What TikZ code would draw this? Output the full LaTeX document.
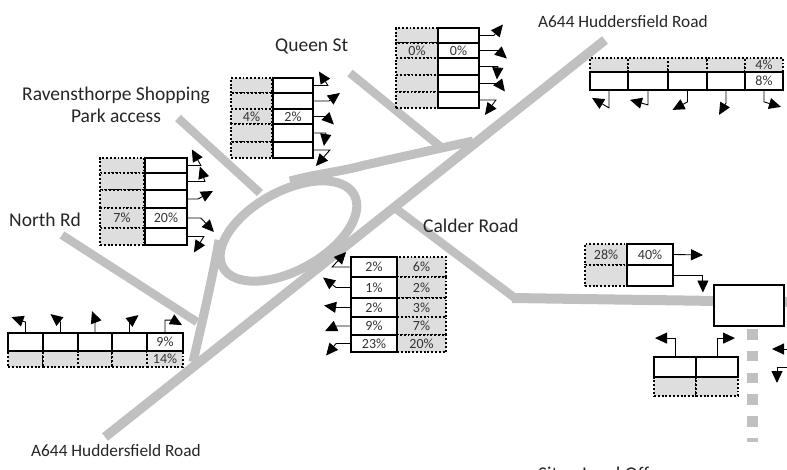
\documentclass[tikz,border=0pt]{standalone}
\usepackage{fontspec}
\setmainfont{Carlito}
\usepackage{xcolor}
\usetikzlibrary{arrows.meta}
\definecolor{roadgrey}{HTML}{C0C0C0}
\definecolor{cellgrey}{HTML}{DEDEDE}
\tikzset{
  road/.style={draw=roadgrey, line width=#1},
  road/.default=9pt,
  place/.style={font=\fontsize{#1}{22}\selectfont, text=black!85, inner sep=0pt},
  place/.default=19.5,
  outcell/.style={draw=black, line width=1.8pt, fill=white, inner sep=0pt,
                  font=\fontsize{14}{15}\selectfont, text=black!80},
  incell/.style={draw=black, line width=1.6pt, dash pattern=on 1.9pt off 1.9pt,
                 fill=cellgrey, inner sep=0pt,
                 font=\fontsize{14}{15}\selectfont, text=black!80},
  flow/.style={draw=black, line width=0.9pt, -{Triangle[length=12pt,width=11pt]}},
  sitebox/.style={draw=black, line width=1.2pt, fill=white, inner sep=0pt},
}
% #1 style, #2 name, #3/#4 top left, #5/#6 bottom right, #7 text
\newcommand{\cellat}[7]{%
  \node[#1, minimum width={(#5-(#3))*1pt}, minimum height={(#6-(#4))*1pt}]
    (#2) at ({(#3+#5)/2},{(#4+#6)/2}) {#7};}

\begin{document}
\begin{tikzpicture}[x=1pt,y=-1pt]
  \useasboundingbox (0,0) rectangle (787,469);

  % roads
  \draw[road=9.5pt] (105,437) -- (605,40);
  \draw[road=8.5pt] (62,235) -- (197,322);
  \draw[road=8.5pt] (178,118) -- (260,193);
  \draw[road=8.5pt] (350,73) -- (442,148);
  \draw[road=8.5pt] (395,208) -- (515,298);
  \draw[road=10pt] (512,298) -- (787,302);
  \draw[road] (288.5,231) ellipse [x radius=75, y radius=39.5, rotate=29];
  \draw[road] (290,181) .. controls (320,173) and (340,172) .. (365,165) -- (473,141);
  \draw[road] (219,240) .. controls (214,270) and (205,310) .. (193,362);
  \draw[road=11pt, dash pattern=on 10.5pt off 11.3pt] (752,329) -- (752,442);

  % North Rd
  \foreach \i/\ya/\yb/\tin/\tout in
      {1/158/173//, 2/173/190//, 3/190/208//, 4/208/228/7\%/20\%, 5/228/245//} {
    \cellat{incell}{nrin\i}{100}{\ya}{144}{\yb}{\tin}
  }
  \foreach \i/\ya/\yb/\tin/\tout in
      {1/158/173//, 2/173/190//, 3/190/208//, 4/208/228/7\%/20\%, 5/228/245//} {
    \cellat{outcell}{nr\i}{145}{\ya}{187}{\yb}{\tout}
  }
  \foreach \i/\ax/\bx/\by in
      {1/13/-9/-16, 2/17/-5/-15, 3/10/15/-8, 4/13/13/14, 5/16/-10/16} {
    \draw[flow] (nr\i.east) -- ++(\ax,0) -- ++(\bx,\by);
  }

  % A644 south arm
  \foreach \i/\xa/\xb/\tin/\tout in
      {1/8/43//, 2/43/78//, 3/78/112//, 4/112/147//, 5/147/183/14\%/9\%} {
    \cellat{incell}{ssin\i}{\xa}{351}{\xb}{367}{\tin}
  }
  \foreach \i/\xa/\xb/\tin/\tout in
      {1/8/43//, 2/43/78//, 3/78/112//, 4/112/147//, 5/147/183/14\%/9\%} {
    \cellat{outcell}{ss\i}{\xa}{333}{\xb}{351}{\tout}
  }
  \foreach \i/\ay/\bx/\by in
      {1/-10/-14/-5, 2/-10/-10/-8, 3/-13/-3/-8, 4/-10/9/-7} {
    \draw[flow] (ss\i.north) -- ++(0,\ay) -- ++(\bx,\by);
  }
  \draw[flow] (ss5.north) -- ++(0,-12) -- ++(8,0) -- ++(9,5);

  % Ravensthorpe
  \foreach \i/\ya/\yb/\tin/\tout in
      {1/78/93//, 2/93/109//, 3/109/124/4\%/2\%, 4/124/142//, 5/142/158//} {
    \cellat{incell}{rvin\i}{231}{\ya}{272}{\yb}{\tin}
  }
  \foreach \i/\ya/\yb/\tin/\tout in
      {1/78/93//, 2/93/109//, 3/109/124/4\%/2\%, 4/124/142//, 5/142/158//} {
    \cellat{outcell}{rv\i}{273}{\ya}{313}{\yb}{\tout}
  }
  \foreach \i/\ax/\bx/\by in
      {1/14/-9/-14, 2/15/11/-8, 3/12/8/8, 4/12/-2/13, 5/16/-14/16} {
    \draw[flow] (rv\i.east) -- ++(\ax,0) -- ++(\bx,\by);
  }

  % Queen St
  \foreach \i/\ya/\yb/\tin/\tout in
      {1/28/43//, 2/43/58/0\%/0\%, 3/58/75//, 4/75/92//, 5/92/108//} {
    \cellat{incell}{qsin\i}{396}{\ya}{438}{\yb}{\tin}
  }
  \foreach \i/\ya/\yb/\tin/\tout in
      {1/28/43//, 2/43/58/0\%/0\%, 3/58/75//, 4/75/92//, 5/92/108//} {
    \cellat{outcell}{qs\i}{438}{\ya}{479}{\yb}{\tout}
  }
  \foreach \i/\ax/\bx/\by in
      {1/14/9/-11, 2/18/9/8, 3/18/-1/13, 4/19/6/8, 5/16/-11/15} {
    \draw[flow] (qs\i.east) -- ++(\ax,0) -- ++(\bx,\by);
  }

  % A644 north arm
  \foreach \i/\xa/\xb/\tin/\tout in
      {1/590/628//, 2/628/668//, 3/668/707//, 4/707/745//, 5/745/783/4\%/8\%} {
    \cellat{incell}{nnin\i}{\xa}{58}{\xb}{72}{\tin}
  }
  \foreach \i/\xa/\xb/\tin/\tout in
      {1/590/628//, 2/628/668//, 3/668/707//, 4/707/745//, 5/745/783/4\%/8\%} {
    \cellat{outcell}{nn\i}{\xa}{72}{\xb}{90}{\tout}
  }
  \foreach \i/\ay/\bx/\by in
      {1/17/-17/-10, 2/14/-18/-5, 3/11/-15/8, 4/12/-7/12, 5/11/17/5} {
    \draw[flow] (nn\i.south) -- ++(0,\ay) -- ++(\bx,\by);
  }

  % Calder Road
  \foreach \i/\ya/\yb/\tout/\tin in
      {1/257/277/2\%/6\%, 2/277/298/1\%/2\%, 3/298/317/2\%/3\%,
       4/317/335/9\%/7\%, 5/335/352/23\%/20\%} {
    \cellat{incell}{crin\i}{397}{\ya}{446}{\yb}{\tin}
  }
  \foreach \i/\ya/\yb/\tout/\tin in
      {1/257/277/2\%/6\%, 2/277/298/1\%/2\%, 3/298/317/2\%/3\%,
       4/317/335/9\%/7\%, 5/335/352/23\%/20\%} {
    \cellat{outcell}{cr\i}{351}{\ya}{397}{\yb}{\tout}
  }
  \foreach \i/\ax/\bx/\by in
      {1/-18/14/-15, 2/-14/-13/-10, 3/-13/-13/-2, 4/-14/-11/5, 5/-14/-10/12} {
    \draw[flow] (cr\i.west) -- ++(\ax,0) -- ++(\bx,\by);
  }

  % site access
  \cellat{incell}{sain1}{585}{244}{627}{265}{28\%}
  \cellat{incell}{sain2}{585}{265}{627}{286}{}
  \cellat{outcell}{sa1}{627}{244}{673}{265}{40\%}
  \cellat{outcell}{sa2}{627}{265}{673}{286}{}
  \cellat{sitebox}{site}{714}{285}{784}{326}{}
  \coordinate (satip) at (703,255);
  \draw[flow] (sa1.east) -- (satip);
  \draw[flow] (sa2.east) -- ++(29,0) -- ++(0,17);

  \cellat{incell}{lwin1}{654}{377}{696}{396}{}
  \cellat{incell}{lwin2}{696}{377}{738}{396}{}
  \cellat{outcell}{lw1}{654}{357}{696}{377}{}
  \cellat{outcell}{lw2}{696}{357}{738}{377}{}
  \draw[flow] (lw1.north) -- ++(0,-18) -- ++(-20,0);
  \draw[flow] (lw2.north) -- ++(0,-18) -- ++(18,0);

  \coordinate (inright) at (787,349);
  \coordinate (inlow) at (787,367);
  \draw[flow] (inright) -- ++(-15,0);
  \draw[flow] (inlow) -- ++(-10,0) -- ++(0,16);

  % street names
  \node[place=17.3, anchor=west] (a644n) at (538,22) {A644 Huddersfield Road};
  \node[place, anchor=west] (queen) at (275,46) {Queen St};
  \node[place, align=center] (raven) at (116,105) {Ravensthorpe Shopping\\Park access};
  \node[place, anchor=west] (north) at (9,220) {North Rd};
  \node[place, anchor=west] (calder) at (423,226) {Calder Road};
  \node[place=17.3, anchor=west] (a644s) at (31,451) {A644 Huddersfield Road};
  \node[place, anchor=west] (landoff) at (538,474) {Site - Land Off};
\end{tikzpicture}
\end{document}
